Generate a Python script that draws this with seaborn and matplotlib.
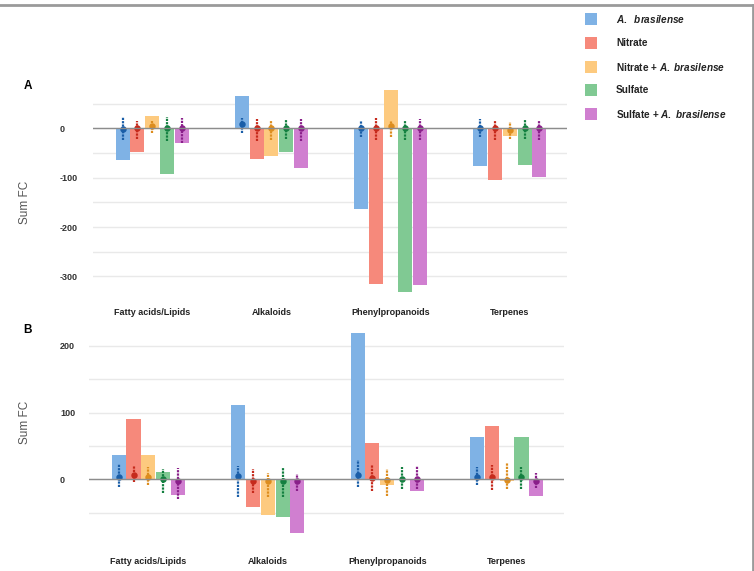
import numpy as np
import pandas as pd
import matplotlib
matplotlib.use("Agg")
import matplotlib.pyplot as plt
import seaborn as sns
from matplotlib.patches import Rectangle
from matplotlib.lines import Line2D

# ---- data ----
categories = ["Fatty acids/Lipids", "Alkaloids", "Phenylpropanoids", "Terpenes"]
treatments = ["A.  brasilense", "Nitrate", "Nitrate + A. brasilense",
              "Sulfate", "Sulfate + A. brasilense"]

# rows: treatment, cols: category
sum_fc_a = [
    [-64, 66, -164, -76],
    [-49, -63, -315, -105],
    [25, -56, 78, -16],
    [-92, -48, -332, -74],
    [-30, -81, -318, -98],
]
sum_fc_b = [
    [37, 111, 220, 64],
    [90, -41, 54, 80],
    [37, -54, -9, -3],
    [11, -57, 1, 64],
    [-24, -81, -17, -25],
]

# individual-compound spread drawn on top of each bar (centre, low, high)
mid_a = [[-2, 8, 0, 0], [0, 0, 0, 0], [5, 0, 5, -3], [0, 0, 0, 0], [0, 0, 0, 0]]
lo_a = [[-24, -10, -18, -17], [-22, -26, -24, -24], [-10, -24, -17, -22],
        [-25, -22, -24, -22], [-30, -25, -24, -24]]
hi_a = [[22, 20, 14, 19], [14, 19, 20, 17], [14, 14, 14, 12],
        [22, 17, 16, 17], [20, 19, 19, 17]]

mid_b = [[4, 5, 7, 4], [6, -2, 2, 4], [4, -3, -1, -1], [1, -3, 0, 3], [-2, -3, 0, -2]]
lo_b = [[-12, -26, -11, -8], [-4, -21, -17, -16], [-8, -26, -25, -14],
        [-21, -26, -15, -15], [-30, -18, -15, -13]]
hi_b = [[23, 20, 29, 19], [20, 15, 21, 21], [19, 9, 15, 24],
        [15, 19, 18, 19], [17, 8, 20, 9]]

bar_colors = ["#7fb2e5", "#f6897b", "#fdca7f", "#80c993", "#d07fd0"]
dot_colors = ["#1a5ea8", "#c62a1c", "#dd8d1e", "#138040", "#8a1f8a"]


def bar_frame(values):
    rows = []
    for t, vals in zip(treatments, values):
        for c, v in zip(categories, vals):
            rows.append({"category": c, "treatment": t, "sum_fc": v})
    return pd.DataFrame(rows)


def spread_frame(mid, lo, hi):
    rows = []
    for i, t in enumerate(treatments):
        for j, c in enumerate(categories):
            for v in (lo[i][j], mid[i][j], hi[i][j]):
                rows.append({"category": c, "treatment": t, "sum_fc": v})
    return pd.DataFrame(rows)


plt.rcParams["font.family"] = ["Liberation Sans", "DejaVu Sans"]
plt.rcParams["mathtext.fontset"] = "custom"
plt.rcParams["mathtext.it"] = "Liberation Sans:italic:bold"
plt.rcParams["mathtext.rm"] = "Liberation Sans:bold"

W, H = 754, 571
fig = plt.figure(figsize=(W / 100, H / 100), dpi=100)
fig.patch.set_facecolor("white")


def px_axes(left, right, top, bottom):
    return fig.add_axes([left / W, 1 - bottom / H, (right - left) / W, (bottom - top) / H])


def draw_panel(ax, values, mid, lo, hi, ylim, grid_ticks, label_ticks, ytick_pad, xtick_pad):
    sns.barplot(data=bar_frame(values), x="category", y="sum_fc", hue="treatment",
                order=categories, hue_order=treatments, palette=bar_colors,
                width=0.62, gap=0.05, errorbar=None, legend=False, ax=ax,
                saturation=1)
    sns.pointplot(data=spread_frame(mid, lo, hi), x="category", y="sum_fc",
                  hue="treatment", order=categories, hue_order=treatments,
                  palette=dot_colors, estimator="median", errorbar=("pi", 100),
                  dodge=0.496, linestyle="none", markers="o", markersize=2.6,
                  err_kws={"linewidth": 1.6, "linestyle": (0, (1.0, 0.5))},
                  legend=False, ax=ax)
    ax.axhline(0, color="#8c8c8c", lw=1, zorder=2.5)
    ax.set_xlim(-0.5, 3.48)
    ax.set_ylim(*ylim)
    ax.set_yticks(grid_ticks)
    ax.set_yticklabels([str(t) if t in label_ticks else "" for t in grid_ticks])
    ax.grid(axis="y", color="#e9e9e9", lw=1)
    ax.set_axisbelow(True)
    for s in ax.spines.values():
        s.set_visible(False)
    ax.tick_params(axis="y", length=0, pad=ytick_pad, labelsize=6.5, labelcolor="#333333")
    ax.tick_params(axis="x", length=0, pad=xtick_pad, labelsize=6.5, labelcolor="#222222")
    for t in ax.get_yticklabels():
        t.set_ha("left")
        t.set_fontweight("bold")
    for t in ax.get_xticklabels():
        t.set_fontweight("bold")
    ax.set_xlabel("")
    ax.set_ylabel("")


ax_a = px_axes(92.6, 567, 83.8, 298.7)
draw_panel(ax_a, sum_fc_a, mid_a, lo_a, hi_a, (-345, 90),
           list(range(-300, 51, 50)), [-300, -200, -100, 0], 23.5, 7)

ax_b = px_axes(88.6, 564, 327.2, 542.7)
draw_panel(ax_b, sum_fc_b, mid_b, lo_b, hi_b, (-95, 228),
           list(range(-50, 201, 50)), [0, 100, 200], 20.6, 10)

# panel letters and y labels
fig.text(28 / W, 1 - 86 / H, "A", fontsize=8.5, fontweight="bold", ha="center", va="center")
fig.text(27 / W, 1 - 330 / H, "B", fontsize=8.5, fontweight="bold", ha="center", va="center")
fig.text(25.5 / W, 1 - 202 / H, "Sum FC", fontsize=8.5, color="#555555",
         rotation=90, ha="center", va="center")
fig.text(25.5 / W, 1 - 422 / H, "Sum FC", fontsize=8.5, color="#555555",
         rotation=90, ha="center", va="center")

# legend
legend_labels = [r"$\mathit{A.\ \ brasilense}$", "Nitrate", r"Nitrate + $\mathit{A.\ brasilense}$",
                 "Sulfate", r"Sulfate + $\mathit{A.\ brasilense}$"]
for i, (lab, col) in enumerate(zip(legend_labels, bar_colors)):
    yc = 19 + 23.8 * i
    fig.add_artist(Rectangle((585 / W, 1 - (yc + 6) / H), 12 / W, 12 / H,
                             transform=fig.transFigure, color=col, lw=0))
    fig.text(616 / W, 1 - yc / H, lab, fontsize=7.2, fontweight="bold",
             color="#222222", ha="left", va="center")

# figure frame (top and right edges)
fig.add_artist(Line2D([0, 752.5 / W], [1 - 4.5 / H] * 2, transform=fig.transFigure,
                      color="#9a9a9a", lw=2))
fig.add_artist(Line2D([752.5 / W] * 2, [0, 1 - 4.5 / H], transform=fig.transFigure,
                      color="#9a9a9a", lw=2))

fig.savefig("out.png", dpi=100, facecolor="white")
